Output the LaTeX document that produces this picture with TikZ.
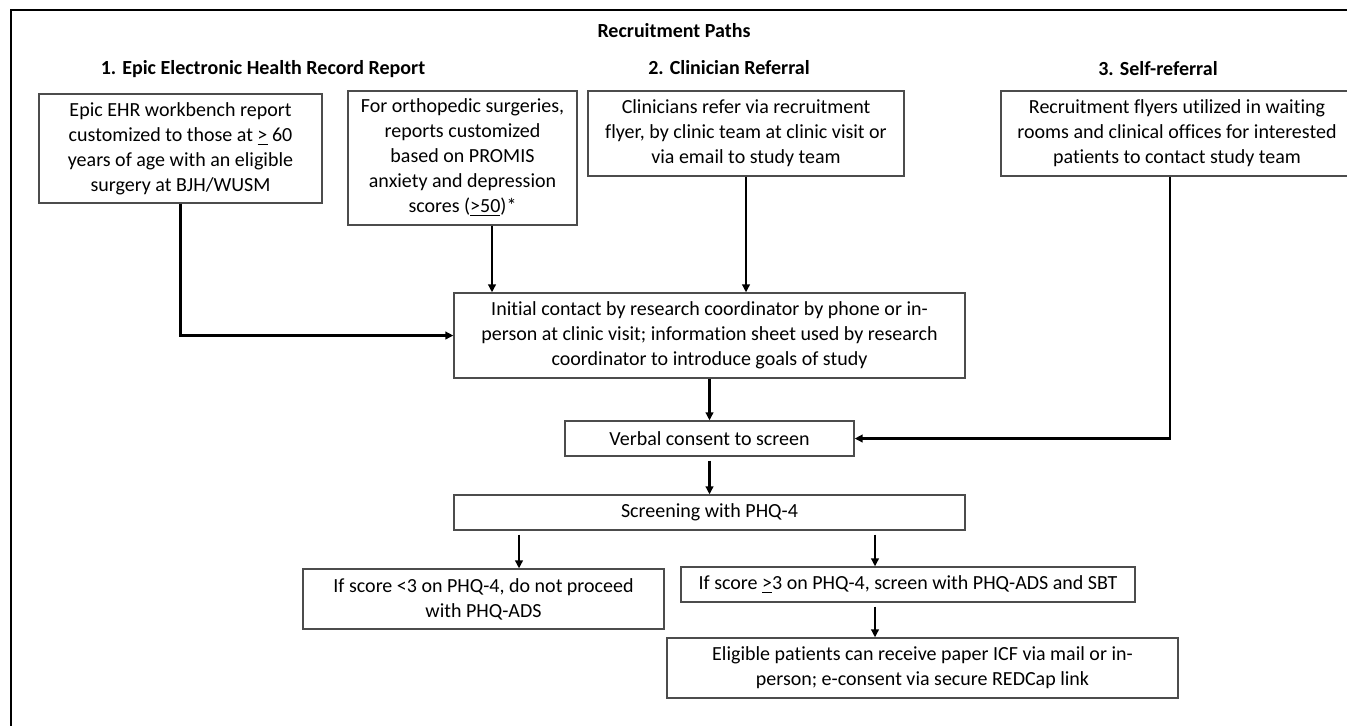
\documentclass[tikz,border=0pt]{standalone}
\usepackage{fontspec}
\setmainfont{Carlito}[Ligatures=NoCommon]
\usetikzlibrary{arrows.meta,calc}

\tikzset{
  box/.style={draw=black!70, line width=0.65pt, align=center, inner sep=0pt, font=\fontsize{10}{12.5}\selectfont},
  head/.style={font=\fontsize{10}{12}\selectfont\bfseries},
  arr/.style={line width=1.1pt, -{Triangle[length=4pt,width=3.8pt]}},
  gap/.style={shorten <=2pt},
}

\begin{document}
\begin{tikzpicture}[x=0.5pt,y=-0.5pt]
\useasboundingbox (0,0) rectangle (1347,725);
\draw[line width=1.1pt] (11,730) -- (11,10) -- (1352,10); %frame, cut by the page
%
\node[head] (title) at (674,31) {Recruitment Paths};
\node[head] (path1) at (263,69) {1. Epic Electronic Health Record Report};
\node[head] (path2) at (729,68) {2. Clinician Referral};
\node[head] (path3) at (1158,69) {3. Self-referral};
%
\node[box,minimum width=141.5pt,minimum height=54.5pt] (epic) at (180.5,148.5) {Epic EHR workbench report\\customized to those at \underline{>} 60\\years of age with an eligible\\surgery at BJH/WUSM};
\node[box,minimum width=114.5pt,minimum height=67pt] (ortho) at (462.5,158) {For orthopedic surgeries,\\reports customized\\based on PROMIS\\anxiety and depression\\scores (\underline{>50})*};
\node[box,minimum width=158pt,minimum height=42.5pt] (clin) at (746,133.5) {Clinicians refer via recruitment\\flyer, by clinic team at clinic visit or\\via email to study team};
\node[box,minimum width=176pt,minimum height=42.5pt] (self) at (1177,133.5) {Recruitment flyers utilized in waiting\\rooms and clinical offices for interested\\patients to contact study team};
%
\node[box,minimum width=255.5pt,minimum height=42.5pt] (contact) at (709.5,335.5) {Initial contact by research coordinator by phone or in-\\person at clinic visit; information sheet used by research\\coordinator to introduce goals of study};
\node[box,minimum width=144.5pt,minimum height=17.5pt] (verbal) at (709.5,438.5) {Verbal consent to screen};
\node[box,minimum width=255.5pt,minimum height=17.5pt] (phq) at (709.5,512.5) {Screening with PHQ-4};
%
\node[box,minimum width=180.5pt,minimum height=30pt] (low) at (483.5,599) {If score <3 on PHQ-4, do not proceed\\with PHQ-ADS};
\node[box,minimum width=227pt,minimum height=17.5pt] (high) at (908,584.5) {If score \underline{>}3 on PHQ-4, screen with PHQ-ADS and SBT};
\node[box,minimum width=255.5pt,minimum height=30pt] (icf) at (922.5,668) {Eligible patients can receive paper ICF via mail or in-\\person; e-consent via secure REDCap link};
%
\draw[arr] (epic.south) |- (contact.west);
\draw[arr] ([xshift=14.75pt]ortho.south) -- ([xshift=14.75pt]ortho.south |- contact.north);
\draw[arr] (clin.south) -- (clin.south |- contact.north);
\draw[arr] ([xshift=-3.5pt]self.south) |- (verbal.east);
%
\draw[arr] (contact.south) -- (verbal.north);
\draw[arr,gap] (verbal.south) -- (phq.north);
\draw[arr,gap] ([xshift=17.75pt]low.north |- phq.south) -- ([xshift=17.75pt]low.north);
\draw[arr,gap] ([xshift=-16.5pt]high.north |- phq.south) -- ([xshift=-16.5pt]high.north);
\draw[arr,gap] ([xshift=-16.5pt]high.south) -- ([xshift=-16.5pt]high.south |- icf.north);
\end{tikzpicture}
\end{document}
